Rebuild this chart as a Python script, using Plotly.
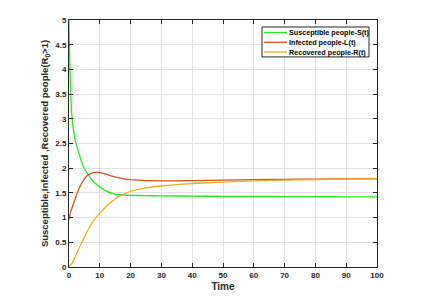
import plotly.graph_objects as go

t_S = [0, 0.2, 0.5, 1, 1.5, 2, 3, 4, 5, 6, 7, 8, 9, 10, 12, 14, 16, 18, 20, 25, 30, 40, 50, 60, 70, 80, 90, 100]
S = [5.0, 4.3, 3.6, 3.0, 2.75, 2.58, 2.35, 2.15, 1.99, 1.89, 1.8, 1.72, 1.67, 1.62, 1.54, 1.49, 1.465, 1.455, 1.45, 1.445, 1.44, 1.435, 1.43, 1.43, 1.425, 1.425, 1.42, 1.42]

t_I = [0, 0.5, 1, 2, 3, 4, 5, 6, 7, 8, 9, 10, 12, 14, 16, 18, 20, 25, 30, 35, 40, 50, 60, 70, 80, 90, 100]
I = [0.96, 1.1, 1.2, 1.38, 1.55, 1.68, 1.78, 1.85, 1.89, 1.91, 1.92, 1.91, 1.88, 1.84, 1.81, 1.785, 1.77, 1.75, 1.745, 1.745, 1.75, 1.76, 1.77, 1.775, 1.78, 1.785, 1.79]

t_R = [0, 1, 2, 3, 4, 5, 6, 7, 8, 9, 10, 12, 14, 16, 18, 20, 25, 30, 40, 50, 60, 70, 80, 90, 100]
R = [0, 0.08, 0.2, 0.34, 0.48, 0.6, 0.73, 0.84, 0.94, 1.02, 1.09, 1.22, 1.33, 1.42, 1.48, 1.53, 1.6, 1.64, 1.69, 1.72, 1.745, 1.76, 1.77, 1.78, 1.785]

x_ticks = [0, 10, 20, 30, 40, 50, 60, 70, 80, 90, 100]
y_ticks = [0, 0.5, 1, 1.5, 2, 2.5, 3, 3.5, 4, 4.5, 5]

names = ["Susceptible people-S(t)", "Infected people-L(t)", "Recovered people-R(t)"]
colors = ["#1EF01E", "#D95319", "#EDB120"]

FONT = "Liberation Sans, Arial"
DARK = "#262626"

# page body has an 8px margin; figure spans window x 8..435, y 8..304
OFF = 8
FIG_W, FIG_H = 435 - OFF, 304 - OFF
L, T = 69 - OFF, 20 - OFF
R_M = FIG_W - (377 - OFF)
B_M = FIG_H - (267.5 - OFF)

fig = go.Figure()
for tx, ys, nm, c in zip([t_S, t_I, t_R], [S, I, R], names, colors):
    fig.add_trace(go.Scatter(x=tx, y=ys, mode="lines", name=nm, showlegend=False,
                             line=dict(color=c, width=1.3, shape="spline", smoothing=0.35)))

axis_common = dict(
    showline=True, linecolor=DARK, linewidth=1, mirror="ticks",
    ticks="inside", ticklen=4, tickcolor=DARK,
    showgrid=True, gridcolor="#E3E3E3", gridwidth=1, zeroline=False,
    automargin=False,
    tickfont=dict(size=8, color=DARK, family=FONT, weight="bold"),
)

fig.update_xaxes(range=[0, 100], tickvals=x_ticks, ticktext=[str(v) for v in x_ticks],
                 title=dict(text="Time", font=dict(size=10, color=DARK, family=FONT, weight="bold"), standoff=4),
                 **axis_common)
fig.update_yaxes(range=[0, 5], tickvals=y_ticks, ticktext=[f"{v:g}" for v in y_ticks],
                 title=dict(text="Susceptible,Infected ,Recovered people(R<sub>0</sub>>1)",
                            font=dict(size=9.5, color=DARK, family=FONT, weight="bold"), standoff=4),
                 **axis_common)

# Compact legend box (MATLAB style), positions in window pixels converted to paper coords
W, H = 308.0, 247.5
def px(x):
    return (x - 69) / W
def py(y):
    return (267.5 - y) / H

shapes = [dict(type="rect", xref="paper", yref="paper", x0=px(262), x1=px(369), y0=py(57), y1=py(27),
               line=dict(color=DARK, width=1), fillcolor="white", layer="above")]
annotations = []
row_h = 9.8
for i, (nm, c) in enumerate(zip(names, colors)):
    yc_px = 32.5 + i * row_h
    shapes.append(dict(type="line", xref="paper", yref="paper",
                       x0=px(264), x1=px(287), y0=py(yc_px), y1=py(yc_px),
                       line=dict(color=c, width=1.3), layer="above"))
    annotations.append(dict(xref="paper", yref="paper", x=px(288), y=py(yc_px), text=nm,
                            showarrow=False, xanchor="left", yanchor="middle", borderpad=0,
                            font=dict(size=7.2, color="#000000", family=FONT, weight="bold")))

fig.update_layout(
    width=FIG_W, height=FIG_H,
    margin=dict(l=L, r=R_M, t=T, b=B_M),
    paper_bgcolor="white", plot_bgcolor="white",
    shapes=shapes, annotations=annotations,
)

fig.write_html("out.html")
